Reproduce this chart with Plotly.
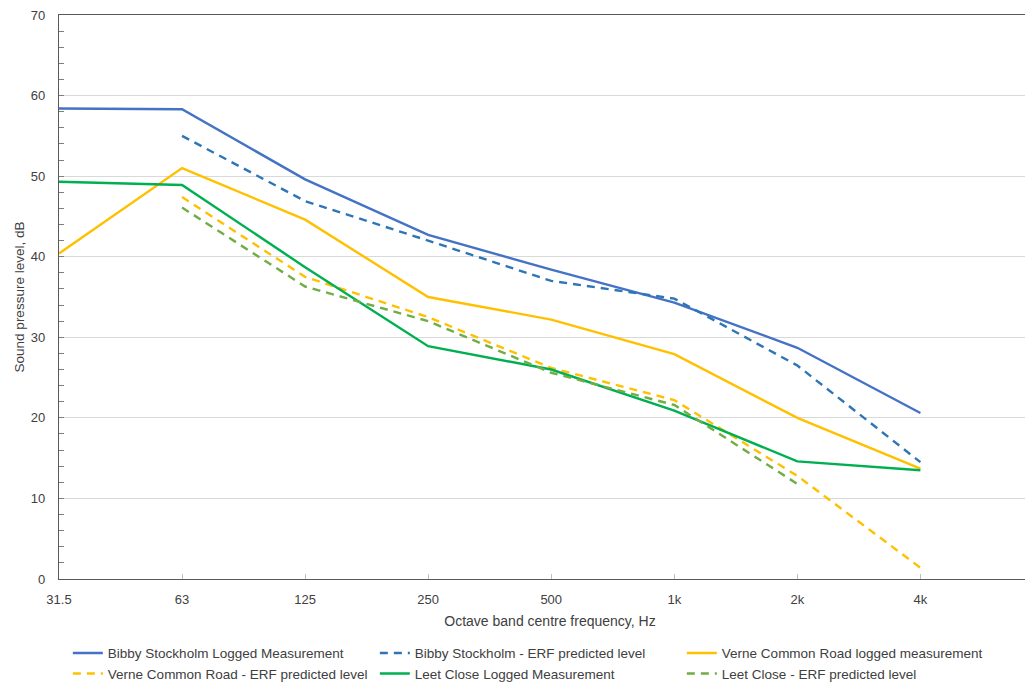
import plotly.graph_objects as go

freq_labels = ["31.5", "63", "125", "250", "500", "1k", "2k", "4k"]

bibby_logged = [58.4, 58.3, 49.6, 42.7, 38.4, 34.3, 28.7, 20.6]
bibby_erf = [None, 55.0, 46.9, 42.0, 37.0, 34.8, 26.5, 14.5]
verne_logged = [40.4, 51.0, 44.6, 35.0, 32.2, 27.9, 20.0, 13.7]
verne_erf = [None, 47.4, 37.5, 32.5, 26.2, 22.2, 12.8, 1.4]
leet_logged = [49.3, 48.9, 38.7, 28.9, 26.0, 20.9, 14.6, 13.5]
leet_erf = [None, 46.1, 36.3, 32.0, 25.6, 21.6, 11.8, None]

series = [
    ("Bibby Stockholm Logged Measurement", bibby_logged, "#4472C4", "solid"),
    ("Bibby Stockholm - ERF predicted level", bibby_erf, "#2E75B6", "8px,6px"),
    ("Verne Common Road logged measurement", verne_logged, "#FFC000", "solid"),
    ("Verne Common Road - ERF predicted level", verne_erf, "#FFC000", "8px,6px"),
    ("Leet Close Logged Measurement", leet_logged, "#00B050", "solid"),
    ("Leet Close - ERF predicted level", leet_erf, "#70AD47", "8px,6px"),
]

x = list(range(len(freq_labels)))
FONT = "Liberation Sans, Arial, sans-serif"

fig = go.Figure()
for name, vals, color, dash in series:
    fig.add_trace(go.Scatter(
        x=x, y=vals, name=name, mode="lines",
        line=dict(color=color, width=2.4, dash=dash),
        connectgaps=False,
    ))

fig.update_layout(
    width=1033, height=688,
    margin=dict(l=51, r=0, t=7, b=117),
    paper_bgcolor="white", plot_bgcolor="white",
    font=dict(family=FONT, size=13, color="#404040"),
    showlegend=True,
    legend=dict(
        orientation="h", x=0.009, xanchor="left", y=-0.104, yanchor="top",
        entrywidth=262, entrywidthmode="pixels",
        font=dict(family=FONT, size=13.5, color="#404040"),
        itemwidth=30, tracegroupgap=0, traceorder="normal",
    ),
)

fig.update_xaxes(
    range=[0, 7.98], automargin=False,
    tickmode="array", tickvals=x, ticktext=freq_labels,
    showgrid=False, zeroline=False,
    showline=True, linecolor="#595959", linewidth=1.2, mirror=True,
    ticks="inside", ticklen=5, tickcolor="#BFBFBF",
    ticklabelstandoff=8, ticklabeloverflow="allow",
    tickfont=dict(size=13, color="#404040"),
    title=dict(text="Octave band centre frequency, Hz", font=dict(size=14, color="#404040"), standoff=10),
)

fig.update_yaxes(
    range=[0, 70], dtick=10, tick0=0, automargin=False,
    showgrid=True, gridcolor="#D9D9D9", gridwidth=1,
    zeroline=False,
    showline=True, linecolor="#595959", linewidth=1.2,
    ticks="inside", ticklen=5, tickcolor="#7F7F7F",
    minor=dict(dtick=2, ticks="inside", ticklen=5, tickcolor="#7F7F7F", showgrid=False),
    ticklabelstandoff=10, ticklabeloverflow="allow",
    tickfont=dict(size=13, color="#404040"),
    title=dict(text="Sound pressure level, dB", font=dict(size=13.5, color="#404040"), standoff=3),
)

fig.write_html("out.html")
